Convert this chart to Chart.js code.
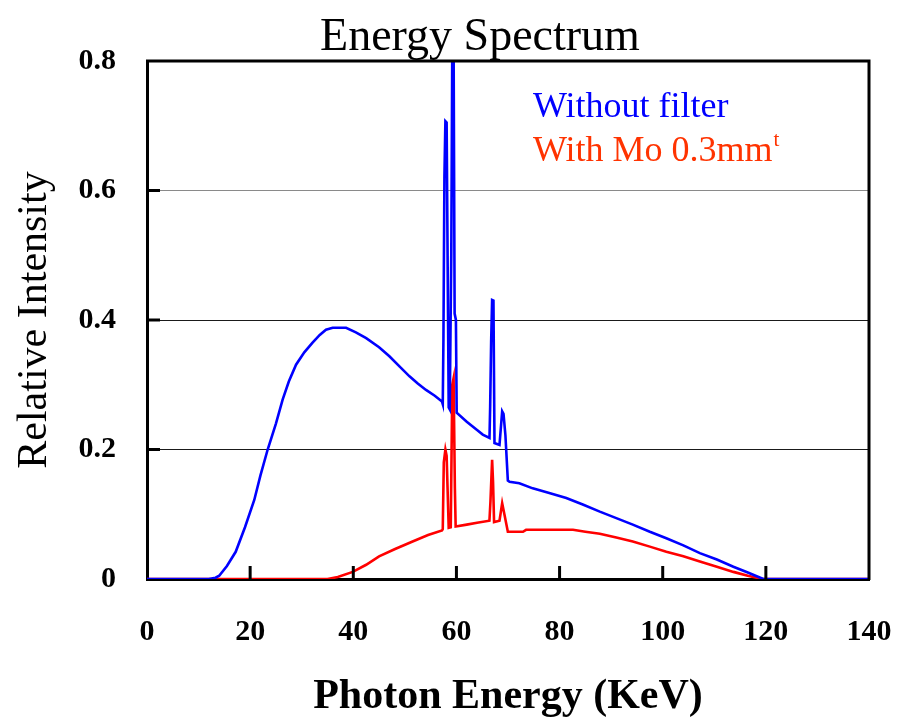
<!DOCTYPE html>
<html>
<head>
<meta charset="utf-8">
<title>Energy Spectrum</title>
<script src="https://cdn.jsdelivr.net/npm/chart.js@4.4.1/dist/chart.umd.min.js"></script>
<style>
  html, body { margin: 0; padding: 0; background: #fff; }
  #wrap { width: 912px; height: 719px; }
</style>
</head>
<body>
<div id="wrap"><canvas id="myChart" width="912" height="719"></canvas></div>
<script>
var blueEnergy = [0, 12, 13.3, 14, 15.5, 17.2, 19, 20.8, 22, 23.4, 25, 26.3, 27.5, 28.9, 30.5, 32.1, 33.5, 34.7, 36, 38.6, 40.5, 42.5, 45, 47, 49, 50.9, 52.5, 54.1, 55.8, 57.2,
  57.35, 57.48, 57.67, 57.86, 58.1, 58.5, 58.7, 59.0, 59.2, 59.45, 59.65, 59.9, 60.05,
  62, 64, 65.1, 66.41, 66.54, 66.73, 66.92, 67.18, 67.38, 68.35, 68.87, 69.13, 69.5, 69.97, 70.3,
  72.2, 74.8, 78, 81.3, 84.5, 87.8, 91, 94.2, 97.5, 100.7, 104, 107.2, 110.5, 113.7, 116.5, 119.5, 140];
var blueIntensity = [0, 0, 0.002, 0.005, 0.02, 0.042, 0.08, 0.122, 0.16, 0.2, 0.24, 0.277, 0.305, 0.331, 0.35, 0.365, 0.377, 0.385, 0.388, 0.388, 0.381, 0.372, 0.358, 0.344, 0.328, 0.313, 0.302, 0.292, 0.283, 0.274,
  0.27, 0.37, 0.62, 0.707, 0.705, 0.265, 0.262, 0.5, 0.83, 0.83, 0.41, 0.40, 0.257,
  0.243, 0.23, 0.223, 0.218, 0.266, 0.366, 0.431, 0.43, 0.21, 0.207, 0.259, 0.255, 0.222, 0.152, 0.15,
  0.148, 0.14, 0.133, 0.125, 0.115, 0.104, 0.094, 0.084, 0.073, 0.063, 0.052, 0.04, 0.03, 0.019, 0.01, 0, 0];

var redEnergy = [0, 35, 37, 39.9, 42.5, 45, 48, 51.5, 54.5, 57.2,
  57.35, 57.55, 57.86, 58.1, 58.5, 58.9, 59.2, 59.45, 59.7, 59.85,
  62, 64, 66.4, 66.6, 66.92, 67.1, 67.3, 68.35, 68.87, 69.3, 69.97, 70.3,
  72.9, 73.5, 78, 82.6, 85, 87.8, 91, 94.2, 97.5, 100.7, 104, 107.2, 110.5, 113.7, 116.5, 119.3, 140];
var redIntensity = [0, 0, 0.003, 0.011, 0.022, 0.035, 0.046, 0.058, 0.068, 0.075,
  0.077, 0.18, 0.2, 0.19, 0.079, 0.08, 0.3, 0.31, 0.14, 0.081,
  0.084, 0.087, 0.09, 0.12, 0.184, 0.15, 0.088, 0.09, 0.117, 0.1, 0.073, 0.073,
  0.073, 0.076, 0.076, 0.076, 0.073, 0.07, 0.064, 0.058, 0.05, 0.042, 0.035, 0.027, 0.019, 0.011, 0.005, 0, 0];

var seriesNames = ["Without filter", "With Mo 0.3mm"];
var xTitle = "Photon Energy (KeV)";
var yTitle = "Relative Intensity";
var chartTitle = "Energy Spectrum";

function toPoints(xs, ys) {
  var pts = [];
  for (var i = 0; i < xs.length; i++) pts.push({x: xs[i], y: ys[i]});
  return pts;
}

var serif = "'Liberation Serif', 'Times New Roman', serif";

// title, legend text, inward ticks, top/right frame
var decor = {
  id: 'decor',
  afterDatasetsDraw: function(chart) {
    var c = chart.ctx, a = chart.chartArea;
    var xs = chart.scales.x, ys = chart.scales.y;
    c.save();
    c.strokeStyle = '#000';
    c.lineWidth = 3;
    c.beginPath();
    c.moveTo(a.left - 1, a.top);
    c.lineTo(a.right, a.top);
    c.lineTo(a.right, a.bottom + 1);
    c.stroke();
    xs.ticks.forEach(function(t, i) {
      if (i === 0 || i === xs.ticks.length - 1) return;
      var px = xs.getPixelForValue(t.value);
      c.beginPath(); c.moveTo(px, a.bottom); c.lineTo(px, a.bottom - 13); c.stroke();
    });
    ys.ticks.forEach(function(t, i) {
      if (i === 0 || i === ys.ticks.length - 1) return;
      var py = ys.getPixelForValue(t.value);
      c.beginPath(); c.moveTo(a.left, py); c.lineTo(a.left + 13, py); c.stroke();
    });

    c.fillStyle = '#000';
    c.font = '46px ' + serif;
    c.textAlign = 'center';
    c.textBaseline = 'alphabetic';
    c.fillText(chartTitle, 480, 50);

    c.textAlign = 'left';
    c.font = '36px ' + serif;
    c.fillStyle = '#0000ff';
    c.fillText(seriesNames[0], 533, 117);
    c.fillStyle = '#ff3300';
    c.fillText(seriesNames[1], 533, 161);
    var w = c.measureText(seriesNames[1]).width;
    c.font = '21px ' + serif;
    c.fillText('t', 533 + w + 1, 146);
    c.restore();
  }
};

var ctx = document.getElementById("myChart");

var myChart = new Chart(ctx, {
  type: 'line',
  data: {
    datasets: [
      {
        label: seriesNames[0],
        data: toPoints(blueEnergy, blueIntensity),
        borderColor: '#0000ff',
        borderWidth: 2.6,
        pointRadius: 0,
        tension: 0
      },
      {
        label: seriesNames[1],
        data: toPoints(redEnergy, redIntensity),
        borderColor: '#ff0000',
        borderWidth: 2.6,
        pointRadius: 0,
        tension: 0
      }]
  },
  options: {
    responsive: false,
    animation: false,
    layout: { padding: { top: 61, right: 43, left: 0, bottom: 0 } },
    plugins: {
      legend: { display: false },
      title: { display: false },
      tooltip: { enabled: false }
    },
    scales: {
      x: {
        type: 'linear',
        min: 0, max: 140,
        ticks: {
          stepSize: 20,
          padding: 35,
          color: '#000',
          font: { family: serif, size: 30, weight: 'bold' }
        },
        grid: { display: false, drawTicks: false },
        border: { color: '#000', width: 3 },
        title: {
          display: true,
          text: xTitle,
          color: '#000',
          font: { family: serif, size: 42, weight: 'bold', lineHeight: 1 },
          padding: { top: 0, bottom: 1 }
        },
        afterFit: function(s) {
          s.height = 140;
          s.paddingLeft = 0;
          s.paddingRight = 0;
        }
      },
      y: {
        min: 0, max: 0.8,
        ticks: {
          stepSize: 0.2,
          padding: 31,
          color: '#000',
          font: { family: serif, size: 30, weight: 'bold' },
          callback: function(v) { return v === 0 ? '0' : v.toFixed(1); }
        },
        grid: {
          drawTicks: false,
          lineWidth: 1,
          color: function(c) {
            var v = c.tick ? c.tick.value : 0;
            if (v < 0.01 || v > 0.79) return 'rgba(0,0,0,0)';
            return Math.abs(v - 0.6) < 1e-6 ? '#8a8a8a' : '#1a1a1a';
          }
        },
        border: { color: '#000', width: 3 },
        title: {
          display: true,
          text: yTitle,
          color: '#000',
          font: { family: serif, size: 42, lineHeight: 1 },
          padding: { top: 14, bottom: 0 }
        },
        afterFit: function(s) {
          s.width = 147;
          s.paddingTop = 0;
          s.paddingBottom = 0;
        }
      }
    }
  },
  plugins: [decor]
});
</script>
</body>
</html>
